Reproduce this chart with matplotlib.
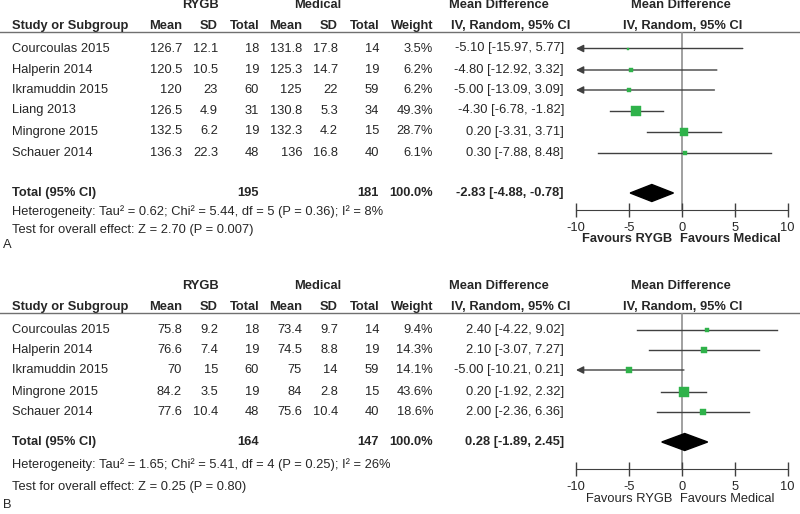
import numpy as np
import matplotlib.pyplot as plt
from matplotlib.patches import Polygon

plt.rcParams['font.family'] = ['Liberation Sans', 'DejaVu Sans']

# panel A: systolic blood pressure
studies_a = ['Courcoulas 2015', 'Halperin 2014', 'Ikramuddin 2015', 'Liang 2013', 'Mingrone 2015', 'Schauer 2014']
rygb_mean_a = ['126.7', '120.5', '120', '126.5', '132.5', '136.3']
rygb_sd_a = ['12.1', '10.5', '23', '4.9', '6.2', '22.3']
rygb_n_a = [18, 19, 60, 31, 19, 48]
med_mean_a = ['131.8', '125.3', '125', '130.8', '132.3', '136']
med_sd_a = ['17.8', '14.7', '22', '5.3', '4.2', '16.8']
med_n_a = [14, 19, 59, 34, 15, 40]
weight_a = [3.5, 6.2, 6.2, 49.3, 28.7, 6.1]
md_a = [-5.10, -4.80, -5.00, -4.30, 0.20, 0.30]
lo_a = [-15.97, -12.92, -13.09, -6.78, -3.31, -7.88]
hi_a = [5.77, 3.32, 3.09, -1.82, 3.71, 8.48]
total_a = (-2.83, -4.88, -0.78)
het_a = 'Heterogeneity: Tau² = 0.62; Chi² = 5.44, df = 5 (P = 0.36); I² = 8%'
test_a = 'Test for overall effect: Z = 2.70 (P = 0.007)'

# panel B: diastolic blood pressure
studies_b = ['Courcoulas 2015', 'Halperin 2014', 'Ikramuddin 2015', 'Mingrone 2015', 'Schauer 2014']
rygb_mean_b = ['75.8', '76.6', '70', '84.2', '77.6']
rygb_sd_b = ['9.2', '7.4', '15', '3.5', '10.4']
rygb_n_b = [18, 19, 60, 19, 48]
med_mean_b = ['73.4', '74.5', '75', '84', '75.6']
med_sd_b = ['9.7', '8.8', '14', '2.8', '10.4']
med_n_b = [14, 19, 59, 15, 40]
weight_b = [9.4, 14.3, 14.1, 43.6, 18.6]
md_b = [2.40, 2.10, -5.00, 0.20, 2.00]
lo_b = [-4.22, -3.07, -10.21, -1.92, -2.36]
hi_b = [9.02, 7.27, 0.21, 2.32, 6.36]
total_b = (0.28, -1.89, 2.45)
het_b = 'Heterogeneity: Tau² = 1.65; Chi² = 5.41, df = 4 (P = 0.25); I² = 26%'
test_b = 'Test for overall effect: Z = 0.25 (P = 0.80)'

TXT = '#262626'
FS = 9.3
W, H = 800, 514

fig = plt.figure(figsize=(8, 5.14), dpi=100)
main = fig.add_axes([0, 0, 1, 1])
main.set_xlim(0, W)
main.set_ylim(H, 0)
main.axis('off')


def panel(letter, y0, rows, total_y, het_y, test_y, axis_y, label_y, studies,
          rm, rs, rn, mm, ms, mn, wt, md, lo, hi, tot, het, test, fav_bold):
    # headers
    for x, s in [(200, 'RYGB'), (318, 'Medical'), (499, 'Mean Difference'), (681, 'Mean Difference')]:
        main.text(x, y0, s, ha='center', va='center', fontsize=FS, fontweight='bold', color=TXT)
    h2 = y0 + 21
    main.text(12, h2, 'Study or Subgroup', ha='left', va='center', fontsize=FS, fontweight='bold', color=TXT)
    for x, s in [(182, 'Mean'), (218, 'SD'), (259, 'Total'), (302, 'Mean'), (338, 'SD'),
                 (379, 'Total'), (433, 'Weight'), (570, 'IV, Random, 95% CI')]:
        main.text(x, h2, s, ha='right', va='center', fontsize=FS, fontweight='bold', color=TXT)
    main.text(683, h2, 'IV, Random, 95% CI', ha='center', va='center', fontsize=FS, fontweight='bold', color=TXT)
    line_y = y0 + 27
    main.plot([0, W], [line_y, line_y], color='#707070', lw=1)

    for i, y in enumerate(rows):
        cells = [(182, rm[i]), (218, rs[i]), (259, str(rn[i])), (302, mm[i]), (338, ms[i]),
                 (379, str(mn[i])), (433, f'{wt[i]:.1f}%'),
                 (564, f'{md[i]:.2f} [{lo[i]:.2f}, {hi[i]:.2f}]')]
        main.text(12, y, studies[i], ha='left', va='center', fontsize=FS, color=TXT)
        for x, s in cells:
            main.text(x, y, s, ha='right', va='center', fontsize=FS, color=TXT)

    main.text(12, total_y, 'Total (95% CI)', ha='left', va='center', fontsize=FS, fontweight='bold', color=TXT)
    for x, s in [(259, str(sum(rn))), (379, str(sum(mn))), (433, '100.0%'),
                 (564, f'{tot[0]:.2f} [{tot[1]:.2f}, {tot[2]:.2f}]')]:
        main.text(x, total_y, s, ha='right', va='center', fontsize=FS, fontweight='bold', color=TXT)
    main.text(12, het_y, het, ha='left', va='center', fontsize=FS, color=TXT)
    main.text(12, test_y, test, ha='left', va='center', fontsize=FS, color=TXT)
    main.text(3, label_y, letter, ha='left', va='center', fontsize=FS, color=TXT)

    fw = 'bold' if fav_bold else 'normal'
    main.text(672, label_y - 6, 'Favours RYGB', ha='right', va='center', fontsize=FS, fontweight=fw, color=TXT)
    main.text(680, label_y - 6, 'Favours Medical', ha='left', va='center', fontsize=FS, fontweight=fw, color=TXT)

    # forest plot axes, in figure pixels: -10 at x=576, 10 at x=787.5
    ax = fig.add_axes([576 / W, 1 - axis_y / H, 211.5 / W, (axis_y - line_y) / H])
    ax.set_xlim(-10, 10)
    ax.set_ylim(axis_y, line_y)
    ax.patch.set_visible(False)
    for sp in ['top', 'left', 'right']:
        ax.spines[sp].set_visible(False)
    ax.spines['bottom'].set_color('#404040')
    ax.set_yticks([])
    ax.set_xticks([-10, -5, 0, 5, 10])
    ax.set_xticklabels(['-10', '-5', '0', '5', '10'])
    ax.tick_params(axis='x', direction='inout', length=10, width=1, color='#404040',
                   labelsize=FS, labelcolor=TXT, pad=3.5)
    ax.axvline(0, color='#909090', lw=1.2, zorder=1)

    for i, y in enumerate(rows):
        a, b = max(lo[i], -10), min(hi[i], 10)
        if lo[i] < -10:
            ax.annotate('', xy=(-10, y), xytext=(b, y),
                        arrowprops=dict(arrowstyle='-|>', color='#404040', lw=1,
                                        mutation_scale=11, shrinkA=0, shrinkB=0),
                        annotation_clip=False)
        else:
            ax.plot([a, b], [y, y], color='#404040', lw=1, clip_on=False)
        side = np.sqrt(wt[i]) * 1.45 * 72 / 100
        ax.plot(md[i], y, marker='s', ms=side, color='#2fb24a', mec='#2fb24a', mew=0.3,
                linestyle='none', zorder=3, clip_on=False)

    c, l, r = tot
    ax.add_patch(Polygon([[l, total_y], [c, total_y - 8.5], [r, total_y], [c, total_y + 8.5]],
                         closed=True, color='black', zorder=3, clip_on=False))


panel('A', 5, [48.5, 70, 90, 110.5, 131.5, 153], 193, 212, 230, 210, 245,
      studies_a, rygb_mean_a, rygb_sd_a, rygb_n_a, med_mean_a, med_sd_a, med_n_a,
      weight_a, md_a, lo_a, hi_a, total_a, het_a, test_a, True)
panel('B', 286, [330, 350, 370, 392, 412], 442, 465, 487, 469, 505,
      studies_b, rygb_mean_b, rygb_sd_b, rygb_n_b, med_mean_b, med_sd_b, med_n_b,
      weight_b, md_b, lo_b, hi_b, total_b, het_b, test_b, False)

fig.savefig('out.png', dpi=100)
